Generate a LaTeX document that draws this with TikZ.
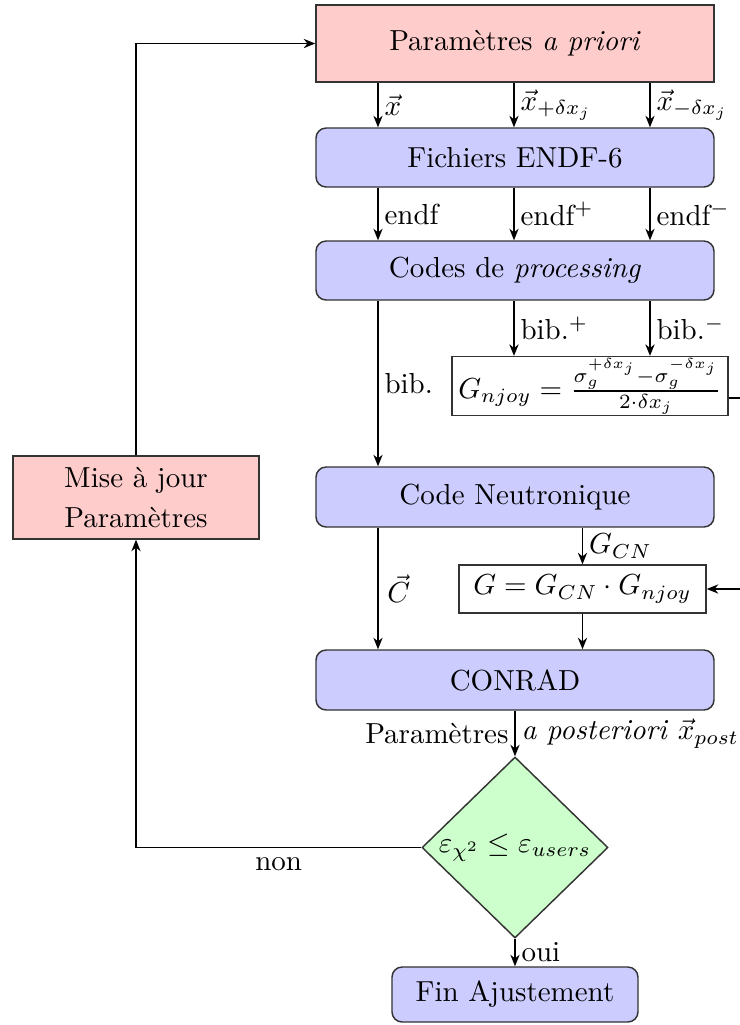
\documentclass[tikz,border=0pt]{standalone}
\usetikzlibrary{shapes.geometric,arrows.meta}
\def\pxu{0.345pt}
\begin{document}
\begin{tikzpicture}[x=\pxu,y=-\pxu, line width=0.5pt,
  pinkbox/.style={draw=black!80, fill=red!20, inner sep=0pt},
  bluebox/.style={draw=black!80, fill=blue!20, rounded corners=3.5pt, inner sep=0pt},
  plainbox/.style={draw=black!80, fill=white, inner xsep=2pt, inner ysep=0.5pt},
  arr/.style={-{Stealth[length=4pt,width=3.2pt]}},
  lbl/.style={right, inner sep=2pt}]
\useasboundingbox (0,0) rectangle (740,1025);
\clip (0,0) rectangle (740,1025);

\coordinate (c1) at (378,0);
\coordinate (c2) at (514,0);
\coordinate (c3) at (650,0);
\coordinate (c4) at (582.5,0);
\coordinate (rt) at (770,0);
\coordinate (gy) at (0,398);

\node[pinkbox, minimum width=398*\pxu, minimum height=77*\pxu] (apriori) at (515,43.5) {Paramètres \emph{a priori}};
\node[bluebox, minimum width=398*\pxu, minimum height=59*\pxu] (endf) at (515,157.5) {Fichiers ENDF-6};
\node[bluebox, minimum width=398*\pxu, minimum height=59*\pxu] (proc) at (515,270.5) {Codes de \emph{processing}};
\node[plainbox, minimum width=276*\pxu, minimum height=48*\pxu] (gnjoy) at (590,386) {$G_{njoy} = \frac{\sigma_g^{+\delta x_j} - \sigma_g^{-\delta x_j}}{2\cdot\delta x_j}$};
\node[bluebox, minimum width=398*\pxu, minimum height=60*\pxu] (neut) at (515,497) {Code Neutronique};
\node[plainbox, minimum width=247*\pxu, minimum height=48*\pxu] (gbox) at (582.5,589) {$G = G_{CN}\cdot G_{njoy}$};
\node[bluebox, minimum width=398*\pxu, minimum height=60*\pxu] (conrad) at (515,680) {CONRAD};
\node[diamond, draw=black!80, fill=green!20, aspect=1, inner sep=0pt, minimum width=186*\pxu, minimum height=181*\pxu] (test) at (515,847.5) {$\varepsilon_{\chi^2}\le\varepsilon_{users}$};
\node[bluebox, minimum width=246*\pxu, minimum height=55*\pxu] (fin) at (515,994.5) {Fin Ajustement};
\node[pinkbox, minimum width=246*\pxu, minimum height=83*\pxu, align=center] (mise) at (136,497.5) {Mise à jour\\[2pt]Paramètres};

\draw[arr] (apriori.south -| c1) -- node[lbl]{$\vec{x}$} (endf.north -| c1);
\draw[arr] (apriori.south -| c2) -- node[lbl]{$\vec{x}_{+\delta x_j}$} (endf.north -| c2);
\draw[arr] (apriori.south -| c3) -- node[lbl]{$\vec{x}_{-\delta x_j}$} (endf.north -| c3);

\draw[arr] (endf.south -| c1) -- node[lbl]{endf} (proc.north -| c1);
\draw[arr] (endf.south -| c2) -- node[lbl]{endf$^+$} (proc.north -| c2);
\draw[arr] (endf.south -| c3) -- node[lbl]{endf$^-$} (proc.north -| c3);

\draw[arr] (proc.south -| c2) -- node[lbl]{bib.$^+$} (gnjoy.north -| c2);
\draw[arr] (proc.south -| c3) -- node[lbl]{bib.$^-$} (gnjoy.north -| c3);
\draw[arr] (proc.south -| c1) -- node[lbl]{bib.} (neut.north -| c1);

\draw[arr] (neut.south -| c4) -- node[lbl]{$G_{CN}$} (gbox.north);
\draw[arr] (neut.south -| c1) -- node[lbl, inner sep=3pt]{$\vec{C}$} (conrad.north -| c1);
\draw[arr] (gbox.south) -- (conrad.north -| c4);
\draw[arr] (gnjoy.east |- gy) -- (rt |- gy) |- (gbox.east);

\draw[arr] (conrad.south) -- node[left, inner sep=2pt]{Paramètres} node[lbl]{\emph{a posteriori} $\vec{x}_{post}$} (test.north);
\draw[arr] (test.west) -| node[pos=0.25, below]{non} (mise.south);
\draw[arr] (test.south) -- node[lbl]{oui} (fin.north);
\draw[arr] (mise.north) |- (apriori.west);
\end{tikzpicture}
\end{document}
